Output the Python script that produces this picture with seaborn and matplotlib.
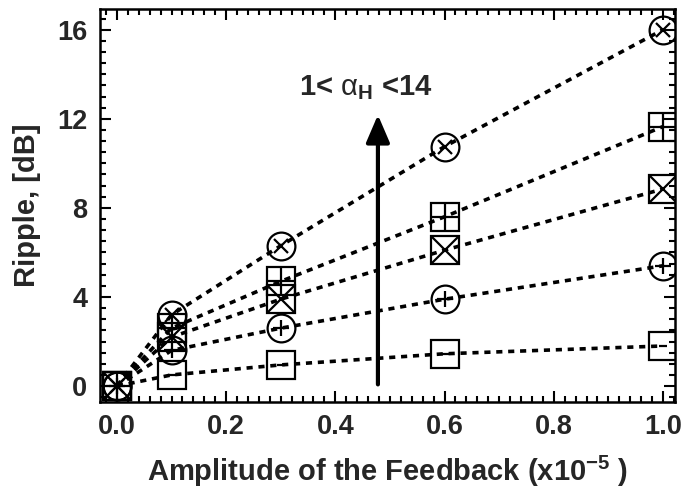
import numpy as np
import pandas as pd
import matplotlib
matplotlib.use("Agg")
import matplotlib.pyplot as plt
import seaborn as sns
from matplotlib.ticker import MultipleLocator, FormatStrFormatter

sns.set_theme(style="white")
plt.rcParams['font.family'] = ['Liberation Sans', 'DejaVu Sans']
plt.rcParams['mathtext.fontset'] = 'custom'
plt.rcParams['mathtext.rm'] = 'Liberation Sans'
plt.rcParams['mathtext.bf'] = 'Liberation Sans:bold'
plt.rcParams['mathtext.it'] = 'Liberation Sans:italic'

amplitude = [0.0, 0.1, 0.3, 0.6, 1.0]
ripple_circ_x = [0.0, 3.2, 6.3, 10.75, 16.0]
ripple_sq_plus = [0.0, 2.6, 4.7, 7.6, 11.65]
ripple_sq_x = [0.0, 2.2, 3.9, 6.1, 8.85]
ripple_circ_plus = [0.0, 1.6, 2.6, 3.9, 5.4]
ripple_sq_dash = [0.0, 0.5, 0.95, 1.45, 1.8]

series = [
    (ripple_circ_x, 'o', 'x', 10),
    (ripple_sq_plus, 's', '+', 20),
    (ripple_sq_x, 's', 'x', 20),
    (ripple_circ_plus, 'o', '+', 12),
    (ripple_sq_dash, 's', '_', 6),
]

fig = plt.figure(figsize=(6.82, 4.98), dpi=100)
ax = fig.add_axes([0.1466, 0.193, 0.9897 - 0.1466, 0.982 - 0.193])

for vals, outer, inner, isz in series:
    df = pd.DataFrame({'x': amplitude, 'y': vals})
    sns.lineplot(data=df, x='x', y='y', ax=ax, color='black',
                 linestyle=(0, (1.7, 1.6)), linewidth=2.6,
                 marker=outer, markersize=20, markerfacecolor='none',
                 markeredgecolor='black', markeredgewidth=1.6)
    sns.lineplot(data=df, x='x', y='y', ax=ax, color='black', linestyle='',
                 marker=inner, markersize=isz, markeredgecolor='black',
                 markeredgewidth=1.6)

ax.annotate('', xy=(0.478, 12.3), xytext=(0.478, -0.05),
            arrowprops=dict(arrowstyle='-|>,head_length=1.4,head_width=0.6',
                            color='black', lw=3))
ax.text(0.455, 13.4, r'1< $\mathrm{\alpha}_\mathbf{H}$ <14', fontsize=21, fontweight='bold',
        ha='center', va='center')

ax.set_xlim(-0.031, 1.022)
ax.set_ylim(-0.71, 16.93)
ax.xaxis.set_major_locator(MultipleLocator(0.2))
ax.xaxis.set_minor_locator(MultipleLocator(0.02))
ax.yaxis.set_major_locator(MultipleLocator(4))
ax.yaxis.set_minor_locator(MultipleLocator(0.5))
ax.xaxis.set_major_formatter(FormatStrFormatter('%.1f'))
ax.tick_params(which='both', direction='in', top=True, right=True, bottom=True, left=True,
               color='black', width=1.5)
ax.tick_params(which='major', length=8, labelsize=19.5, pad=9)
ax.tick_params(which='minor', length=4)
for lbl in ax.get_xticklabels() + ax.get_yticklabels():
    lbl.set_fontweight('bold')
for sp in ax.spines.values():
    sp.set_color('black')
    sp.set_linewidth(1.8)

ax.set_xlabel(r'Amplitude of the Feedback (x10$^{\mathbf{-5}}$ )', fontsize=21,
              fontweight='bold', labelpad=10)
ax.set_ylabel('Ripple, [dB]', fontsize=21, fontweight='bold', labelpad=12)

fig.savefig('out.png', dpi=100)
